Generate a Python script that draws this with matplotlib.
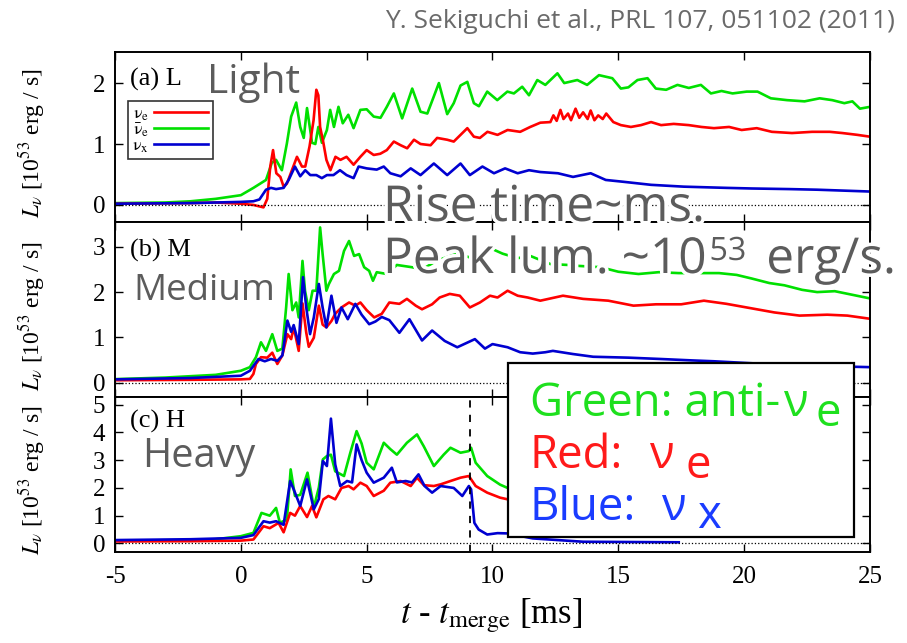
import numpy as np
import matplotlib
matplotlib.use('Agg')
import matplotlib.pyplot as plt
from matplotlib.patches import Rectangle
import matplotlib.patheffects as pe

plt.rcParams['font.family'] = ['Liberation Serif', 'DejaVu Serif']
plt.rcParams['mathtext.fontset'] = 'stix'
plt.rcParams['axes.unicode_minus'] = False

# ---- data: (t - t_merge [ms], L [1e53 erg/s]) ----
# (a) L model
a_green = [(-5, 0.03), (-3, 0.04), (-2, 0.06), (-1, 0.10), (0, 0.16), (0.5, 0.28), (1.0, 0.41),
           (1.23, 0.69), (1.4, 0.74), (1.63, 0.57), (1.83, 1.01), (2.0, 1.45), (2.2, 1.68),
           (2.36, 1.28), (2.5, 1.1), (2.63, 1.59), (2.83, 1.02), (2.96, 1.0), (3.08, 1.28),
           (3.22, 1.02), (3.42, 1.23), (3.55, 1.56), (3.7, 1.28), (3.88, 1.61), (4.05, 1.34),
           (4.27, 1.48), (4.48, 1.26), (4.75, 1.56), (5.0, 1.57), (5.28, 1.45), (5.55, 1.43),
           (5.8, 1.61), (6.08, 1.83), (6.41, 1.42), (6.81, 1.91), (7.14, 1.53), (7.41, 1.5),
           (7.87, 2.0), (8.2, 1.49), (8.46, 1.67), (8.73, 1.96), (9.0, 2.02), (9.26, 1.67),
           (9.46, 1.62), (9.79, 1.86), (10.19, 1.72), (10.59, 1.86), (10.85, 1.83), (11.18, 1.94),
           (11.45, 1.80), (11.78, 2.05), (12.1, 1.97), (12.58, 2.16), (12.85, 2.0), (13.37, 2.05),
           (13.76, 1.97), (14.23, 2.13), (14.76, 2.08), (15.1, 1.91), (15.4, 1.93), (15.76, 2.05),
           (16.16, 2.08), (16.49, 1.91), (16.9, 1.89), (17.35, 1.97), (17.8, 1.92), (18.28, 1.97),
           (18.68, 1.83), (19.1, 1.87), (19.54, 1.83), (20.1, 1.86), (20.53, 1.86), (21.06, 1.75),
           (21.7, 1.72), (22.4, 1.70), (23.0, 1.75), (23.5, 1.72), (23.98, 1.67), (24.3, 1.70),
           (24.6, 1.58), (25.0, 1.61)]
a_red = [(-5, 0.02), (-2, 0.03), (-1, 0.04), (0, 0.02), (0.5, 0.0), (0.9, -0.04), (1.05, 0.1),
         (1.17, 0.63), (1.28, 0.9), (1.41, 0.52), (1.57, 0.46), (1.7, 0.3), (1.83, 0.35),
         (2.03, 0.57), (2.23, 0.79), (2.43, 0.63), (2.56, 0.63), (2.73, 0.96), (2.89, 1.39),
         (3.0, 1.89), (3.08, 1.8), (3.15, 1.28), (3.28, 1.02), (3.4, 0.74), (3.56, 0.57),
         (3.76, 0.79), (3.96, 0.74), (4.2, 0.79), (4.48, 0.66), (4.75, 0.79), (5.0, 0.9),
         (5.28, 0.82), (5.54, 0.84), (5.8, 0.9), (6.08, 1.04), (6.35, 0.98), (6.61, 0.93),
         (6.88, 1.07), (7.14, 1.0), (7.54, 0.98), (7.8, 1.1), (8.2, 1.07), (8.46, 1.04),
         (9.0, 1.26), (9.26, 1.12), (9.5, 1.10), (9.8, 1.2), (10.2, 1.15), (10.6, 1.23),
         (11.1, 1.2), (11.5, 1.28), (11.9, 1.35), (12.3, 1.36), (12.42, 1.47), (12.55, 1.38),
         (12.7, 1.56), (12.82, 1.41), (13.0, 1.5), (13.12, 1.39), (13.3, 1.58), (13.45, 1.43),
         (13.6, 1.52), (13.78, 1.41), (13.9, 1.55), (14.05, 1.39), (14.2, 1.47), (14.38, 1.41),
         (14.52, 1.5), (14.68, 1.42), (14.8, 1.36), (15.1, 1.31), (15.5, 1.28), (15.9, 1.31),
         (16.3, 1.36), (16.7, 1.31), (17.2, 1.33), (17.8, 1.31), (18.3, 1.28), (18.8, 1.26),
         (19.4, 1.28), (19.9, 1.23), (20.5, 1.26), (21.1, 1.2), (21.9, 1.18), (22.7, 1.2),
         (23.4, 1.2), (23.9, 1.18), (24.5, 1.15), (25.0, 1.12)]
a_blue = [(-5, 0.02), (-2, 0.03), (0, 0.05), (0.5, 0.06), (0.74, 0.09), (1.0, 0.25), (1.2, 0.28),
          (1.4, 0.26), (1.7, 0.28), (1.9, 0.41), (2.15, 0.63), (2.36, 0.47), (2.56, 0.57),
          (2.76, 0.49), (3.0, 0.49), (3.22, 0.44), (3.42, 0.49), (3.68, 0.49), (3.94, 0.57),
          (4.2, 0.49), (4.48, 0.44), (4.68, 0.63), (5.0, 0.6), (5.4, 0.58), (5.68, 0.63),
          (5.94, 0.52), (6.35, 0.47), (6.75, 0.6), (7.14, 0.49), (7.67, 0.68), (8.2, 0.49),
          (8.73, 0.68), (9.1, 0.49), (9.6, 0.63), (10.06, 0.52), (10.5, 0.6), (11.0, 0.52),
          (11.45, 0.57), (11.9, 0.54), (12.6, 0.52), (13.2, 0.46), (13.9, 0.52), (14.5, 0.41),
          (15.2, 0.38), (16.3, 0.33), (17.6, 0.30), (19.3, 0.28), (20.3, 0.27), (21.8, 0.26),
          (22.9, 0.25), (25.0, 0.22)]

# (b) M model
b_green = [(-5, 0.075), (-3, 0.11), (-1, 0.17), (0, 0.26), (0.36, 0.34), (0.6, 0.56), (0.8, 0.89),
           (1.0, 0.70), (1.25, 1.07), (1.45, 0.70), (1.65, 0.75), (1.8, 1.66), (1.9, 2.4),
           (2.05, 1.6), (2.2, 1.77), (2.3, 1.44), (2.45, 2.69), (2.55, 2.03), (2.7, 1.6),
           (2.85, 2.03), (3.0, 2.03), (3.15, 3.43), (3.25, 2.84), (3.4, 2.03), (3.5, 2.18),
           (3.7, 2.4), (3.9, 2.47), (4.1, 2.91), (4.3, 3.13), (4.5, 2.8), (4.7, 2.84), (4.9, 2.55),
           (5.1, 2.47), (5.25, 2.25), (5.4, 2.44), (5.8, 2.4), (6.2, 2.6), (6.8, 2.55), (7.2, 2.5),
           (7.8, 2.7), (8.6, 2.85), (9.2, 2.75), (10.0, 2.95), (10.4, 2.85), (11.0, 2.75),
           (11.5, 2.8), (12.3, 2.62), (13.0, 2.6), (13.4, 2.58), (14.3, 2.55), (15.0, 2.45),
           (15.8, 2.4), (16.6, 2.44), (17.4, 2.42), (18.2, 2.42), (19.0, 2.42), (19.7, 2.38),
           (20.3, 2.3), (21.0, 2.2), (21.6, 2.15), (22.3, 2.05), (22.9, 2.0), (23.6, 2.02),
           (24.3, 1.94), (25.0, 1.86)]
b_red = [(-5, 0.05), (-2, 0.06), (0, 0.07), (0.36, 0.08), (0.5, 0.19), (0.6, 0.41), (0.8, 0.56),
         (1.05, 0.55), (1.25, 0.66), (1.45, 0.41), (1.65, 0.6), (1.85, 1.07), (2.0, 0.96),
         (2.1, 1.22), (2.3, 0.7), (2.45, 1.75), (2.6, 1.1), (2.7, 0.79), (2.9, 0.99), (3.1, 1.7),
         (3.25, 1.28), (3.4, 1.22), (3.6, 1.36), (3.75, 1.52), (4.0, 1.66), (4.3, 1.77),
         (4.55, 1.7), (4.75, 1.77), (5.0, 1.6), (5.3, 1.44), (5.6, 1.52), (5.9, 1.77), (6.3, 1.74),
         (6.6, 1.85), (6.95, 1.7), (7.2, 1.62), (7.6, 1.73), (7.9, 1.88), (8.3, 1.96), (8.7, 1.92),
         (9.1, 1.66), (9.5, 1.77), (9.9, 1.92), (10.2, 1.88), (10.6, 2.03), (11.0, 1.92),
         (11.4, 1.88), (11.9, 1.81), (12.8, 1.92), (13.6, 1.85), (14.6, 1.81), (15.6, 1.7),
         (16.5, 1.73), (17.5, 1.73), (18.4, 1.81), (19.3, 1.74), (20.1, 1.66), (21.2, 1.55),
         (22.2, 1.48), (23.3, 1.5), (24.1, 1.48), (25.0, 1.41)]
b_blue = [(-5, 0.07), (-2, 0.1), (0, 0.15), (0.36, 0.26), (0.7, 0.52), (0.95, 0.47), (1.2, 0.52),
          (1.45, 0.48), (1.65, 0.6), (1.85, 1.37), (2.0, 1.12), (2.1, 1.27), (2.3, 0.85),
          (2.47, 2.33), (2.6, 1.66), (2.75, 1.07), (2.9, 1.44), (3.1, 2.18), (3.25, 1.66),
          (3.4, 1.22), (3.6, 1.92), (3.8, 1.32), (4.0, 1.66), (4.25, 1.4), (4.55, 1.74),
          (4.8, 1.5), (5.1, 1.29), (5.35, 1.35), (5.6, 1.45), (5.9, 1.38), (6.3, 1.1), (6.7, 1.4),
          (7.2, 0.93), (7.6, 1.15), (8.1, 0.92), (8.6, 0.78), (9.3, 0.96), (9.7, 0.75),
          (10.0, 0.85), (10.6, 0.78), (11.1, 0.67), (11.6, 0.64), (12.1, 0.67), (12.4, 0.7),
          (13.2, 0.63), (14.0, 0.57), (15.4, 0.55), (16.7, 0.52), (17.9, 0.49), (18.8, 0.47),
          (20.5, 0.42), (22.0, 0.39), (23.5, 0.36), (25.0, 0.34)]

# (c) H model
c_green = [(-5, 0.1), (-2, 0.12), (-1, 0.15), (0, 0.26), (0.5, 0.38), (0.82, 1.1), (1.15, 1.0),
           (1.4, 1.28), (1.55, 0.75), (1.83, 0.85), (1.98, 2.67), (2.15, 1.71), (2.36, 1.75),
           (2.65, 2.55), (2.9, 1.3), (3.1, 2.02), (3.26, 3.03), (3.42, 3.15), (3.58, 3.2),
           (3.75, 2.6), (4.1, 2.43), (4.35, 3.27), (4.6, 4.05), (4.8, 3.6), (5.0, 2.91),
           (5.28, 2.67), (5.68, 3.63), (5.94, 3.4), (6.2, 3.2), (6.6, 3.63), (7.0, 3.93),
           (7.27, 3.5), (7.67, 2.79), (8.06, 3.2), (8.33, 3.45), (8.73, 3.27), (9.06, 3.33),
           (9.15, 3.45), (9.33, 2.91), (9.79, 2.43), (10.3, 2.12), (10.6, 2.0), (12.0, 1.75),
           (14.0, 1.5), (16.0, 1.35), (17.4, 1.25)]
c_red = [(-5, 0.07), (-2, 0.08), (0, 0.1), (0.5, 0.14), (0.9, 0.62), (1.15, 0.55), (1.5, 0.74),
         (1.7, 0.4), (1.96, 1.1), (2.15, 1.0), (2.36, 1.35), (2.63, 0.95), (2.83, 1.35), (3.0, 0.94),
         (3.28, 1.59), (3.48, 1.71), (3.75, 1.59), (4.0, 2.0), (4.28, 2.07), (4.48, 1.95),
         (4.75, 2.19), (5.0, 2.07), (5.28, 1.71), (5.68, 1.9), (5.94, 2.19), (6.35, 2.25),
         (6.75, 2.07), (7.0, 2.37), (7.27, 2.1), (7.67, 2.07), (7.94, 2.13), (8.33, 2.25),
         (8.73, 2.37), (9.06, 2.43), (9.33, 2.07), (9.79, 1.83), (10.3, 1.65), (10.6, 1.59),
         (12.0, 1.4), (14.0, 1.2), (16.0, 1.05), (17.4, 1.0)]
c_blue = [(-5, 0.12), (-2, 0.15), (0, 0.2), (0.5, 0.3), (0.9, 0.8), (1.15, 0.75), (1.4, 0.8),
          (1.7, 0.67), (1.96, 2.25), (2.1, 1.95), (2.36, 1.35), (2.63, 2.31), (2.9, 1.23),
          (3.1, 1.6), (3.26, 2.97), (3.42, 2.79), (3.58, 4.5), (3.75, 2.85), (3.95, 2.07),
          (4.22, 2.25), (4.42, 2.2), (4.6, 3.57), (4.8, 3.0), (5.0, 2.55), (5.28, 2.19),
          (5.68, 2.37), (6.0, 2.73), (6.2, 2.2), (6.55, 2.25), (6.8, 2.2), (7.06, 2.49),
          (7.3, 2.07), (7.6, 1.83), (7.94, 2.07), (8.46, 2.0), (8.8, 1.71), (9.06, 2.07),
          (9.15, 1.95), (9.28, 0.74), (9.45, 0.5), (9.79, 0.32), (10.2, 0.37), (10.6, 0.36),
          (11.6, 0.18), (13.6, 0.06), (15.5, 0.05), (17.4, 0.04)]

t_collapse = 9.1

panels = [
    ('(a) L', a_green, a_red, a_blue, (-0.28, 2.51), [0, 1, 2]),
    ('(b) M', b_green, b_red, b_blue, (-0.32, 3.55), [0, 1, 2, 3]),
    ('(c) H', c_green, c_red, c_blue, (-0.31, 5.28), [0, 1, 2, 3, 4, 5]),
]

GREEN = '#00e000'
RED = '#ff0000'
BLUE = '#0000d0'

W, H = 907, 643
fig = plt.figure(figsize=(W / 100, H / 100), dpi=100)
renderer = fig.canvas.get_renderer()


def fx(px):
    return px / W


def fy(py):
    return 1 - py / H


edges = [52, 222, 397, 552]
axes = []
for i, (name, g, r, b, ylim, yt) in enumerate(panels):
    ax = fig.add_axes([fx(115), fy(edges[i + 1]), fx(870) - fx(115),
                       (edges[i + 1] - edges[i]) / H])
    for data, col in ((g, GREEN), (r, RED), (b, BLUE)):
        t, L = np.array(data).T
        ax.plot(t, L, color=col, lw=1.9)
    ax.axhline(0, color='k', ls=':', lw=0.9)
    ax.set_xlim(-5, 25)
    ax.set_ylim(*ylim)
    ax.set_xticks(range(-5, 26, 5))
    ax.set_yticks(yt)
    ax.tick_params(direction='in', top=True, right=True, length=6, width=1.0,
                   labelsize=18)
    ax.tick_params(axis='y', pad=7)
    ax.tick_params(axis='x', pad=10)
    for s in ax.spines.values():
        s.set_linewidth(1.4)
    ax.set_ylabel(r'$L_\nu$ [10$^{53}$ erg / s]', fontsize=17)
    ax.yaxis.set_label_coords(-0.09, 0.46)
    ax.text(0.02, 0.8, name, transform=ax.transAxes, fontsize=19)
    if i < 2:
        ax.tick_params(labelbottom=False)
    axes.append(ax)

ax_a, ax_b, ax_c = axes
ax_c.axvline(t_collapse, color='k', ls=(0, (4, 4)), lw=1.3)
ax_c.set_xlabel(r'$t$ - $t_{\rm merge}$ [ms]', fontsize=25)
ax_c.xaxis.set_label_coords(0.498, -0.29)

# legend order in the figure: nu_e (red), anti nu_e (green), nu_x (blue)
handles = [ax_a.lines[1], ax_a.lines[0], ax_a.lines[2]]
leg = ax_a.legend(handles, [r'$\mathrm{\nu_e}$', r'$\mathrm{\bar{\nu}_e}$', r'$\mathrm{\nu_x}$'],
                  loc='upper left', bbox_to_anchor=(0.017, 0.71), borderaxespad=0,
                  markerfirst=False, fancybox=False, fontsize=13, handlelength=3.0,
                  labelspacing=-0.1, handletextpad=0.3, borderpad=0.25)
leg.get_frame().set_edgecolor('k')
leg.get_frame().set_linewidth(1.2)

# ---- overlaid annotations ----
SANS = ['Open Sans', 'DejaVu Sans']
GRAY = '#5c5c5c'
halo = [pe.withStroke(linewidth=5, foreground='white')]


def note(px, py, s, size, color=GRAY, effects=None, ha='left'):
    return fig.text(fx(px), fy(py), s, fontsize=size, color=color, family=SANS,
                    va='baseline', ha=ha, zorder=20, path_effects=effects)


def fitted(px, py, s, width, color=GRAY, effects=None, ha='left'):
    # scale the font so the text spans the same width as in the reference
    t = note(px, py, s, 30, color=color, effects=effects, ha=ha)
    w = t.get_window_extent(renderer).width
    t.set_fontsize(30 * width / w)
    return t


def chain(px, py, pieces, size, color=GRAY, effects=None):
    x = px
    for s, gap, dy, scale in pieces:
        x += gap
        t = note(x, py + dy, s, size * scale, color=color, effects=effects)
        x = t.get_window_extent(renderer).x1
    return x


fitted(895, 28, 'Y. Sekiguchi et al., PRL 107, 051102 (2011)', 510, color='#6a6a6a', ha='right')
fitted(207, 93, 'Light', 93)
fitted(133, 300, 'Medium', 142)
fitted(142, 467, 'Heavy', 113)
big = fitted(383, 221, 'Rise time~ms.', 322, effects=halo).get_fontsize()
chain(383, 273, [('Peak lum. ~10', 0, 0, 1.0), ('53', 3, -13, 0.65), ('erg/s.', 20, 0, 1.0)],
      big, effects=halo)

box = Rectangle((fx(508), fy(537)), fx(854) - fx(508), (537 - 363) / H,
                transform=fig.transFigure, facecolor='white', edgecolor='black',
                lw=1.6, zorder=15)
fig.add_artist(box)

probe = note(0, 0, 'Green: anti-', 30)
boxsize = 30 * 250 / probe.get_window_extent(renderer).width
probe.remove()

rows = [
    (416, '#1ee01e', [('Green: anti-', 0, 0, 1), ('\u03bd', 4, 0, 1), ('e', 7, 10, 1)]),
    (468, '#ff1a1a', [('Red:', 0, 0, 1), ('\u03bd', 27, 0, 1), ('e', 10, 10, 1)]),
    (520, '#1a3cff', [('Blue:', 0, 0, 1), ('\u03bd', 26, 0, 1), ('x', 10, 8, 1)]),
]
for base, col, pieces in rows:
    chain(530, base, pieces, boxsize, color=col)

fig.savefig('out.png', dpi=100)
